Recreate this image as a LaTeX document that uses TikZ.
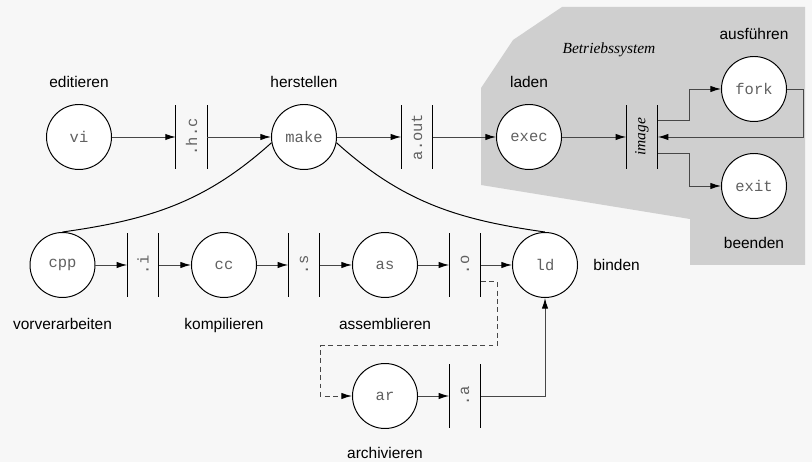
\documentclass[tikz,border=0pt]{standalone}
\usepackage{fontspec}
\setmainfont{Liberation Serif}
\setsansfont{Liberation Sans}
\setmonofont{Liberation Mono}
\usetikzlibrary{arrows.meta,positioning,calc}
\tikzset{
    page color/.style={black!3},
    os color/.style={black!19},
    line color/.style={black!72},
    process/.style={circle,draw=black,line width=0.7pt,fill=white,minimum size=1.625cm,inner sep=0pt,font=\fontsize{11}{13}\ttfamily,text=black!62},
    file store/.style={minimum width=0.775cm,minimum height=1.575cm,inner sep=0pt,font=\fontsize{11}{13}\ttfamily,text=black!62},
    file bar/.style={line width=0.8pt},
    step label/.style={inner sep=0pt,font=\fontsize{11}{13}\sffamily},
    arr/.style={-{Latex[length=7.5pt,width=4.5pt,black]},line color,line width=0.7pt},
    link/.style={line width=0.7pt},
}
\tikzstyle{every node}=[font=\fontsize{11}{13}\selectfont]
\newcommand\upwards[1]{\rotatebox{90}{#1}}

\begin{document}
\begin{tikzpicture}
    \useasboundingbox[fill,page color] (0,0) rectangle (20.3,11.55);
    % Betriebssystem
    \fill[os color] (12.025,9.35) -- (12.825,10.55) -- (14.05,11.375) -- (20.125,11.375) -- (20.125,4.925)
        -- (17.25,4.925) -- (17.25,6.075) -- (12.025,6.925) -- cycle;
    \node[font=\fontsize{11}{13}\itshape] (os) at (15.225,10.3) {Betriebssystem};

    % obere Reihe
    \node[process] (vi) at (1.975,8.125) {vi};
    \node[file store] (hfile) at (4.79,8.125) {\upwards{.h.c}};
    \node[process] (make) at (7.6,8.125) {make};
    \node[file store] (aout) at (10.425,8.125) {\upwards{a.out}};
    \node[process] (exec) at (13.225,8.125) {exec};
    \node[file store, font=\fontsize{11}{13}\rmfamily\itshape, text=black] (image) at (16.05,8.125) {\upwards{image}};
    \node[process] (fork) at (18.85,9.325) {fork};
    \node[process] (exit) at (18.85,6.9) {exit};

    % untere Reihe
    \node[process] (cpp) at (1.5625,4.925) {cpp};
    \node[file store] (ifile) at (3.575,4.925) {\upwards{.i}};
    \node[process] (cc) at (5.6,4.925) {cc};
    \node[file store] (sfile) at (7.6,4.925) {\upwards{.s}};
    \node[process] (as) at (9.625,4.925) {as};
    \node[file store] (ofile) at (11.625,4.925) {\upwards{.o}};
    \node[process] (ld) at (13.625,4.925) {ld};
    \node[process] (ar) at (9.625,1.65) {ar};
    \node[file store] (afile) at (11.625,1.65) {\upwards{.a}};

    \foreach \f in {hfile,aout,image,ifile,sfile,ofile,afile}
        \draw[file bar] (\f.north west) -- (\f.south west) (\f.north east) -- (\f.south east);

    % Beschriftungen
    \node[step label, above=3.9mm of vi] (edit) {editieren};
    \node[step label, above=3.9mm of make] (build) {herstellen};
    \node[step label, above=3.9mm of exec] (load) {laden};
    \node[step label, above=3.9mm of fork] (run) {ausführen};
    \node[step label, below=4.6mm of exit] (quit) {beenden};
    \node[step label, below=5mm of cpp] (pre) {vorverarbeiten};
    \node[step label, below=5mm of cc] (comp) {kompilieren};
    \node[step label, below=5mm of as] (asm) {assemblieren};
    \node[step label, right=3.75mm of ld] (bind) {binden};
    \node[step label, below=4.6mm of ar] (arch) {archivieren};

    % Verbindungen
    \draw[arr] (vi) -- (hfile);
    \draw[arr] (hfile) -- (make);
    \draw[arr] (make) -- (aout);
    \draw[arr] (aout) -- (exec);
    \draw[arr] (exec) -- (image);
    \draw[arr] ([yshift=4.2mm]image.east) -- ++(0.8,0) |- (fork);
    \draw[arr] (fork.east) -- ++(0.4125,0) |- (image.east);
    \draw[arr] ([yshift=-4.2mm]image.east) -- ++(0.8,0) |- (exit);

    \draw[arr] (cpp) -- (ifile);
    \draw[arr] (ifile) -- (cc);
    \draw[arr] (cc) -- (sfile);
    \draw[arr] (sfile) -- (as);
    \draw[arr] (as) -- (ofile);
    \draw[arr] (ofile) -- (ld);
    \draw[arr, dash pattern=on 3.5pt off 2.5pt] ([yshift=-4.2mm]ofile.east) -| ++(0.4125,-1.6) -- ++(-4.425,0) |- (ar);
    \draw[arr] (ar) -- (afile);
    \draw[arr] (afile) -| (ld);

    \draw[link] (make.190) to[out=222, in=8] (cpp.north);
    \draw[link] (make.-10) to[out=-42, in=172] (ld.north);
\end{tikzpicture}
\end{document}
